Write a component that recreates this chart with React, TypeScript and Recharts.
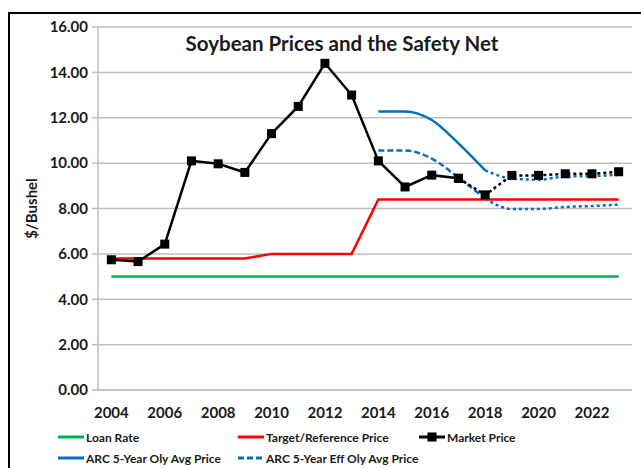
import React from 'react';
import { LineChart, Line, XAxis, YAxis, CartesianGrid, Label } from 'recharts';

const years = [2004, 2005, 2006, 2007, 2008, 2009, 2010, 2011, 2012, 2013, 2014, 2015, 2016, 2017, 2018, 2019, 2020, 2021, 2022, 2023];
const loanRate = [5.0, 5.0, 5.0, 5.0, 5.0, 5.0, 5.0, 5.0, 5.0, 5.0, 5.0, 5.0, 5.0, 5.0, 5.0, 5.0, 5.0, 5.0, 5.0, 5.0];
const targetPrice = [5.8, 5.8, 5.8, 5.8, 5.8, 5.8, 6.0, 6.0, 6.0, 6.0, 8.4, 8.4, 8.4, 8.4, 8.4, 8.4, 8.4, 8.4, 8.4, 8.4];
const marketPrice = [5.74, 5.66, 6.43, 10.1, 9.97, 9.59, 11.3, 12.5, 14.4, 13.0, 10.1, 8.95, 9.47, 9.33, 8.6, 9.46, 9.46, 9.53, 9.53, 9.62];
const marketProjectedFrom = 2018;

const arcYears = [2014, 2015, 2016, 2017, 2018, 2019, 2020, 2021, 2022, 2023];
const arcOlyAvgPrice = [12.28, 12.28, 11.9, 10.87, 9.68, 9.32, 9.27, 9.41, 9.43, 9.49];
const arcEffOlyAvgPrice = [10.56, 10.56, 10.2, 9.36, 8.44, 7.98, 7.98, 8.07, 8.11, 8.17];
const arcProjectedFrom = 2019;

const yTicks = [0, 2, 4, 6, 8, 10, 12, 14, 16];
const xLabelYears = [2004, 2006, 2008, 2010, 2012, 2014, 2016, 2018, 2020, 2022];
const yearBoundaries = [...years.map((y) => y - 0.5), years[years.length - 1] + 0.5];

const data = years.map((year, i) => {
  const row: any = { year, loan: loanRate[i], target: targetPrice[i] };
  if (year < marketProjectedFrom) row.marketActual = marketPrice[i];
  if (year >= marketProjectedFrom - 1) row.marketProj = marketPrice[i];
  const j = arcYears.indexOf(year);
  if (j >= 0) {
    if (year < arcProjectedFrom) {
      row.olyActual = arcOlyAvgPrice[j];
      row.effActual = arcEffOlyAvgPrice[j];
    }
    if (year >= arcProjectedFrom - 1) {
      row.olyProj = arcOlyAvgPrice[j];
      row.effProj = arcEffOlyAvgPrice[j];
    }
  }
  return row;
});

const FONT = 'Lato, "Open Sans", sans-serif';
const GRID = '#BFBFBF';
const BLUE = '#0070C0';
const GREEN = '#00B050';
const RED = '#FF0000';
const TEXT = '#1a1a1a';

const SquareDot = (props: any) => {
  const { cx, cy, index, dataKey } = props;
  if (cx == null || cy == null) return <g key={`${dataKey}-${index}`} />;
  return <rect key={`${dataKey}-${index}`} x={cx - 4.5} y={cy - 4.5} width={9} height={9} fill="#000" />;
};

const legendItems = [
  { label: 'Loan Rate', color: GREEN, dash: undefined as string | undefined, marker: false },
  { label: 'Target/Reference Price', color: RED, dash: undefined, marker: false },
  { label: 'Market Price', color: '#000', dash: undefined, marker: true },
  { label: 'ARC 5-Year Oly Avg Price', color: BLUE, dash: undefined, marker: false },
  { label: 'ARC 5-Year Eff Oly Avg Price', color: BLUE, dash: '6 3', marker: false },
];

const legendPos = [
  { left: 58, top: 437 },
  { left: 238, top: 437 },
  { left: 419, top: 437 },
  { left: 58, top: 458 },
  { left: 238, top: 458 },
];

export default function App() {
  return (
    <div
      style={{
        position: 'fixed',
        left: 0,
        top: 0,
        width: 641,
        height: 468,
        overflow: 'hidden',
        background: '#fff',
        fontFamily: FONT,
      }}
    >
      <div
        style={{
          position: 'absolute',
          left: 8,
          top: 12,
          width: 640,
          height: 460,
          borderTop: '2px solid #000',
          borderLeft: '2px solid #000',
          boxSizing: 'border-box',
        }}
      />
      <div style={{ position: 'absolute', left: 8, top: 8 }}>
        <LineChart width={633} height={460} data={data} margin={{ top: 19, right: 9, bottom: 0, left: 0 }}>
          <CartesianGrid horizontal vertical={false} stroke={GRID} strokeWidth={1.5} />
          <XAxis
            xAxisId="frame"
            dataKey="year"
            type="number"
            domain={[2003.5, 2023.5]}
            ticks={yearBoundaries}
            tick={false}
            height={1}
            stroke={GRID}
            strokeWidth={1.5}
            tickSize={5}
          />
          <XAxis
            xAxisId="lbl"
            dataKey="year"
            type="number"
            domain={[2003.5, 2023.5]}
            ticks={xLabelYears}
            axisLine={false}
            tickLine={false}
            height={77}
            tickMargin={10}
            tick={{ fill: TEXT, fontSize: 15, fontWeight: 700, fontFamily: FONT }}
          />
          <YAxis
            domain={[0, 16]}
            ticks={yTicks}
            width={90}
            stroke={GRID}
            strokeWidth={1.5}
            tickSize={6}
            tickMargin={4}
            tickFormatter={(v: number) => v.toFixed(2)}
            tick={{ fill: TEXT, fontSize: 15, fontWeight: 700, fontFamily: FONT }}
          >
            <Label
              value="$/Bushel"
              angle={-90}
              position="insideLeft"
              offset={24}
              style={{ fill: TEXT, fontSize: 15, fontWeight: 700, fontFamily: FONT, textAnchor: 'middle' }}
            />
          </YAxis>
          <Line xAxisId="lbl" dataKey="loan" stroke={GREEN} strokeWidth={2.5} dot={false} isAnimationActive={false} />
          <Line xAxisId="lbl" dataKey="target" stroke={RED} strokeWidth={2.5} dot={false} isAnimationActive={false} />
          <Line xAxisId="lbl" type="monotone" dataKey="olyActual" stroke={BLUE} strokeWidth={2.5} dot={false} isAnimationActive={false} />
          <Line xAxisId="lbl" type="monotone" dataKey="olyProj" stroke={BLUE} strokeWidth={2.5} strokeDasharray="3 3" dot={false} isAnimationActive={false} />
          <Line xAxisId="lbl" type="monotone" dataKey="effActual" stroke={BLUE} strokeWidth={2.5} strokeDasharray="6 3" dot={false} isAnimationActive={false} />
          <Line xAxisId="lbl" type="monotone" dataKey="effProj" stroke={BLUE} strokeWidth={2.5} strokeDasharray="3 3" dot={false} isAnimationActive={false} />
          <Line xAxisId="lbl" dataKey="marketActual" stroke="#000" strokeWidth={2.5} dot={SquareDot} isAnimationActive={false} />
          <Line xAxisId="lbl" dataKey="marketProj" stroke="#000" strokeWidth={2.5} strokeDasharray="3 3" dot={SquareDot} isAnimationActive={false} />
        </LineChart>
      </div>
      <div
        style={{
          position: 'absolute',
          left: 112,
          top: 30,
          width: 460,
          textAlign: 'center',
          fontSize: 20.5,
          fontWeight: 700,
          color: TEXT,
          lineHeight: '26px',
          whiteSpace: 'nowrap',
        }}
      >
        Soybean Prices and the Safety Net
      </div>
      {legendItems.map((item, i) => (
        <div
          key={item.label}
          style={{
            position: 'absolute',
            left: legendPos[i].left,
            top: legendPos[i].top - 8,
            height: 16,
            display: 'flex',
            alignItems: 'center',
            fontSize: 12,
            fontWeight: 700,
            color: TEXT,
            whiteSpace: 'nowrap',
          }}
        >
          <svg width={26} height={16} style={{ marginRight: 2, display: 'block' }}>
            <line x1={0} y1={8} x2={26} y2={8} stroke={item.color} strokeWidth={3} strokeDasharray={item.dash} />
            {item.marker && <rect x={8.5} y={3.5} width={9} height={9} fill="#000" />}
          </svg>
          <span>{item.label}</span>
        </div>
      ))}
    </div>
  );
}
